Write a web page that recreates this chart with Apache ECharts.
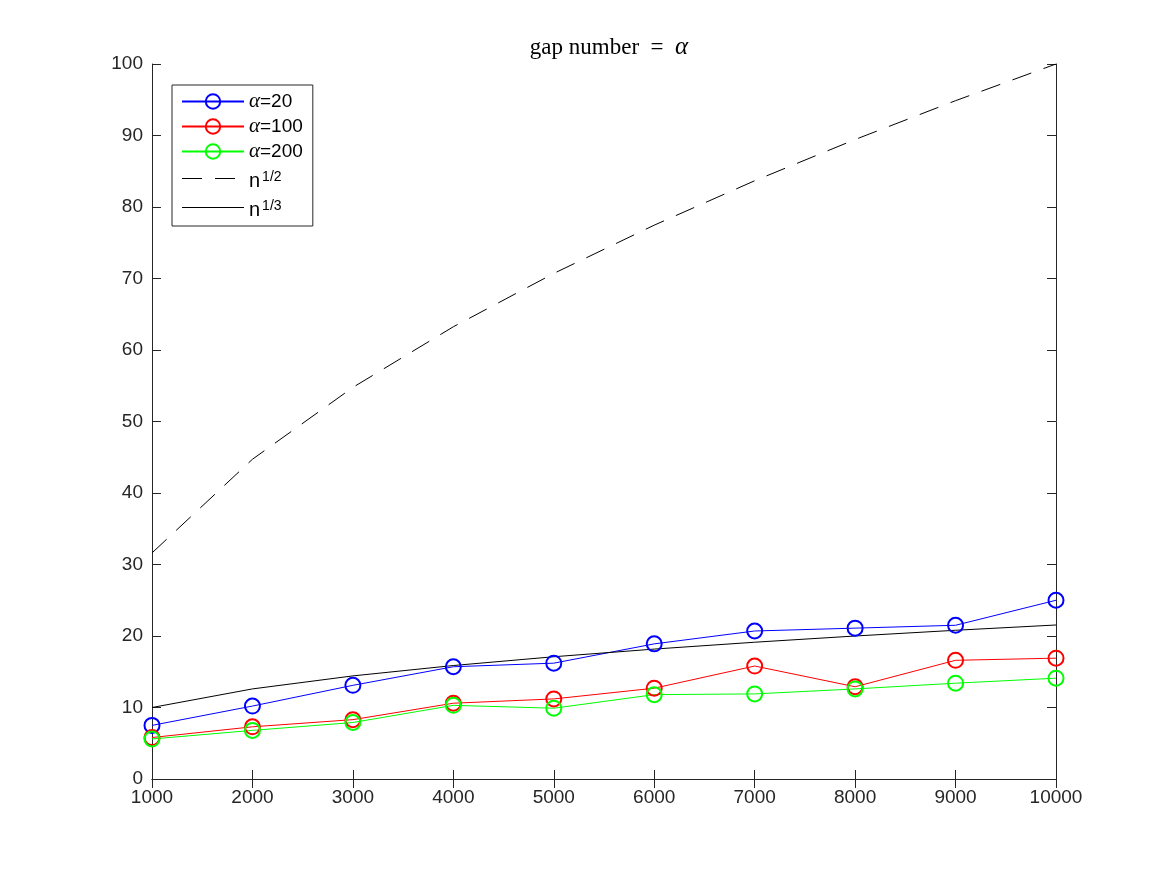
<!DOCTYPE html>
<html>
<head>
<meta charset="utf-8">
<script src="https://cdn.jsdelivr.net/npm/echarts@6/dist/echarts.min.js"></script>
<style>html,body{margin:0;padding:0;background:#fff;}#c{width:1167px;height:875px;}</style>
</head>
<body>
<div id="c"></div>
<script>
const nValues = [1000, 2000, 3000, 4000, 5000, 6000, 7000, 8000, 9000, 10000];
const alpha20 = [7.5, 10.2, 13.1, 15.7, 16.2, 18.9, 20.7, 21.1, 21.5, 25.0];
const alpha100 = [5.8, 7.3, 8.3, 10.6, 11.2, 12.7, 15.8, 12.9, 16.6, 16.9];
const alpha200 = [5.6, 6.8, 7.9, 10.3, 9.9, 11.8, 11.9, 12.6, 13.4, 14.1];
const sqrtN = [31.62, 44.72, 54.77, 63.25, 70.71, 77.46, 83.67, 89.44, 94.87, 100.0];
const cbrtN = [10.0, 12.6, 14.42, 15.87, 17.1, 18.17, 19.13, 20.0, 20.8, 21.54];
const seriesNames = ['α=20', 'α=100', 'α=200', 'n^1/2', 'n^1/3'];
const xTicks = { min: 1000, max: 10000, interval: 1000 };
const yTicks = { min: 0, max: 100, interval: 10 };

const pairs = arr => nValues.map((n, i) => [n, arr[i]]);
const axisColor = '#262626';
const sans = 'Liberation Sans, Arial, Helvetica, sans-serif';
const serif = 'Liberation Serif, DejaVu Serif, serif';
const tickFont = { color: axisColor, fontSize: 19, fontFamily: sans };

function markerSeries(name, data, color) {
  return {
    name, type: 'line', data: pairs(data),
    symbol: 'circle', symbolSize: 15,
    lineStyle: { color, width: 1 },
    itemStyle: { color: 'rgba(255,255,255,0)', borderColor: color, borderWidth: 2 },
    emphasis: { disabled: true }
  };
}

const chart = echarts.init(document.getElementById('c'), null, { renderer: 'canvas' });
const baseAxis = (extra) => Object.assign({
  type: 'value',
  axisLine: { show: true, lineStyle: { color: axisColor, width: 1 } },
  axisTick: { show: true, inside: true, length: 9, lineStyle: { color: axisColor } },
  splitLine: { show: false }
}, extra);

chart.setOption({
  backgroundColor: '#fff',
  animation: false,
  title: {
    text: 'gap number  =  {a|α}',
    left: 604, top: 30, textAlign: 'center',
    textStyle: {
      fontFamily: serif, fontSize: 23, fontWeight: 'normal', color: '#000',
      rich: { a: { fontFamily: serif, fontStyle: 'italic', fontSize: 25, color: '#000' } }
    }
  },
  grid: { left: 152, right: 111, top: 64, bottom: 96 },
  legend: {
    orient: 'vertical', left: 172, top: 85,
    data: [
      { name: seriesNames[0] },
      { name: seriesNames[1] },
      { name: seriesNames[2] },
      { name: seriesNames[3], itemStyle: { opacity: 0 }, lineStyle: { width: 1 } },
      { name: seriesNames[4], itemStyle: { opacity: 0 }, lineStyle: { width: 1 } }
    ],
    itemWidth: 62, itemHeight: 18, itemGap: 4,
    padding: [6, 10, 6, 9],
    backgroundColor: '#fff', borderColor: axisColor, borderWidth: 1, borderRadius: 0,
    formatter: function (name) {
      if (name === 'n^1/2') return '{n|n}{s|1/2}';
      if (name === 'n^1/3') return '{n|n}{s|1/3}';
      return '{g|α}{t|' + name.slice(1) + '}';
    },
    textStyle: {
      color: '#000', fontSize: 19, fontFamily: sans, lineHeight: 18,
      rich: {
        g: { fontFamily: serif, fontStyle: 'italic', fontSize: 21, color: '#000', lineHeight: 18 },
        t: { fontSize: 19, color: '#000', fontFamily: sans, lineHeight: 18 },
        n: { fontSize: 20, color: '#000', fontFamily: sans, lineHeight: 18, padding: [5, 0, 0, 0] },
        s: { fontSize: 14, color: '#000', fontFamily: sans, lineHeight: 14, padding: [0, 0, 3, 2] }
      }
    }
  },
  xAxis: [
    baseAxis(Object.assign({ position: 'bottom', axisLabel: Object.assign({ margin: 9, formatter: v => String(v) }, tickFont) }, xTicks)),
    baseAxis(Object.assign({ position: 'top', axisLabel: { show: false } }, xTicks))
  ],
  yAxis: [
    baseAxis(Object.assign({ position: 'left', axisLabel: Object.assign({ margin: 9 }, tickFont) }, yTicks)),
    baseAxis(Object.assign({ position: 'right', axisLabel: { show: false } }, yTicks))
  ],
  series: [
    markerSeries(seriesNames[0], alpha20, '#0000ff'),
    markerSeries(seriesNames[1], alpha100, '#ff0000'),
    markerSeries(seriesNames[2], alpha200, '#00ff00'),
    {
      name: seriesNames[3], type: 'line', data: pairs(sqrtN), symbol: 'none',
      lineStyle: { color: '#000', width: 1, type: [20, 13] }, itemStyle: { color: '#000' }
    },
    {
      name: seriesNames[4], type: 'line', data: pairs(cbrtN), symbol: 'none',
      lineStyle: { color: '#000', width: 1 }, itemStyle: { color: '#000' }
    }
  ]
});
</script>
</body>
</html>
